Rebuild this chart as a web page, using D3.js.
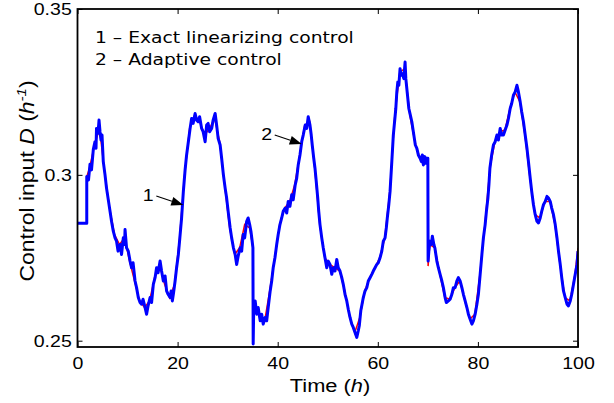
<!DOCTYPE html>
<html>
<head>
<meta charset="utf-8">
<script src="https://cdn.jsdelivr.net/npm/d3@7"></script>
<style>
  body { margin: 0; background: #fff; }
  svg { display: block; }
</style>
</head>
<body>
<script>
// ticks
const xTicks = [0, 20, 40, 60, 80, 100];
const yTicks = [0.25, 0.3, 0.35];
const yTickLabels = ["0.25", "0.3", "0.35"];

const legendLines = ["1 \u2013 Exact linearizing control", "2 \u2013 Adaptive control"];

// curve 1 - exact linearizing control (red, mostly hidden under curve 2)
const exactTime = [0,1.85,1.85,2.4,3.4,4.4,5.4,6.4,7.4,8.4,9.4,10.4,11.4,12.4,13.4,14.4,15.4,16.4,17.4,18.4,
  19.4,20.4,21.4,22.4,23.4,24.4,25.4,26.4,27.4,28.4,29.4,30.4,31.4,32.4,33.4,34.4,35.05,35.1,35.4,36.4,
  37.4,38.4,39.4,40.4,41.4,42.4,43.4,44.4,45.4,46.4,47.4,48.4,49.4,50.4,51.4,52.4,53.4,54.4,55.4,56.4,
  57.4,58.4,59.4,60.4,61.4,62.4,63.4,64.4,65.4,66.4,67.4,68.4,69.4,70.0,70.05,70.4,71.4,72.4,73.4,74.4,
  75.4,76.4,77.4,78.4,79.4,80.4,81.4,82.4,83.4,84.4,85.4,86.4,87.4,88.4,89.4,90.4,91.4,92.4,93.4,94.4,
  95.4,96.4,97.4,98.4,99.4,100];
const exactD = [0.2854,0.2854,0.2995,0.302,0.309,0.314,0.301,0.290,0.282,0.279,0.281,0.274,0.268,0.262,0.260,0.262,0.269,0.273,0.267,0.263,
  0.267,0.281,0.300,0.314,0.318,0.316,0.312,0.314,0.317,0.310,0.297,0.284,0.276,0.278,0.285,0.284,0.278,0.257,0.260,0.257,
  0.256,0.265,0.275,0.285,0.290,0.292,0.297,0.306,0.315,0.316,0.302,0.285,0.275,0.273,0.272,0.271,0.265,0.257,0.2525,0.257,
  0.265,0.269,0.272,0.275,0.281,0.295,0.318,0.331,0.332,0.318,0.310,0.305,0.305,0.304,0.2725,0.279,0.278,0.270,0.263,0.2625,
  0.266,0.268,0.262,0.2565,0.258,0.270,0.285,0.302,0.310,0.313,0.3135,0.320,0.325,0.322,0.312,0.299,0.288,0.287,0.292,0.292,
  0.285,0.273,0.263,0.262,0.270,0.278];

// curve 2 - adaptive control (blue)
const adaptiveTime = [
  0,1.85,1.85,2.2,2.5,2.8,3.16,3.5,3.7,3.8,
  4.1,4.3,4.5,4.7,4.9,5.15,5.5,5.8,6.2,6.5,
  6.8,7.15,7.5,7.8,8.1,8.5,8.8,9.15,9.4,9.5,
  9.8,10.15,10.5,10.8,11.1,11.5,11.8,12.15,12.5,12.8,
  13.1,13.5,13.8,14.1,14.5,14.8,15.15,15.5,15.8,16.1,
  16.5,16.8,17.15,17.5,17.8,18.1,18.5,18.7,18.95,19.2,
  19.5,19.8,20.15,20.45,20.8,21.15,21.5,21.8,22.15,22.5,
  22.8,23.1,23.5,23.8,24.1,24.4,24.8,25.1,25.5,25.8,
  26.1,26.4,26.8,27.1,27.5,27.8,28.1,28.5,28.8,29.15,
  29.5,29.8,30.1,30.5,30.8,31.15,31.5,31.8,32.1,32.5,
  32.8,33.1,33.4,33.8,34.1,34.4,34.65,34.9,35.05,35.1,
  35.2,35.5,35.8,36.1,36.5,36.8,37.1,37.5,37.8,38.1,
  38.5,38.8,39.1,39.45,39.8,40.1,40.45,40.8,41.1,41.5,
  41.8,42.1,42.45,42.8,43.1,43.5,43.8,44.1,44.45,44.8,
  45.1,45.5,45.8,46.1,46.45,46.7,46.9,47.2,47.45,47.7,
  48.0,48.2,48.45,48.8,49.1,49.45,49.8,50.1,50.45,50.8,
  51.1,51.45,51.8,52.1,52.45,52.8,53.1,53.45,53.8,54.1,
  54.45,54.8,55.1,55.45,55.8,56.1,56.3,56.6,56.85,57.1,
  57.45,57.8,58.1,58.45,58.8,59.1,59.45,59.8,60.1,60.45,
  60.8,61.1,61.45,61.7,61.9,62.2,62.45,62.8,63.1,63.35,
  63.6,63.8,64.0,64.2,64.45,64.7,64.9,65.2,65.45,65.6,
  65.8,66.0,66.2,66.5,66.8,67.0,67.3,67.5,67.8,68.1,
  68.45,68.7,68.9,69.1,69.4,69.6,69.8,70.0,70.05,70.2,
  70.4,70.7,70.9,71.2,71.4,71.8,72.1,72.45,72.8,73.1,
  73.45,73.7,74.1,74.45,74.8,75.1,75.45,75.8,76.1,76.45,
  76.8,77.1,77.45,77.8,78.1,78.45,78.8,79.1,79.45,79.8,
  80.1,80.45,80.8,81.1,81.45,81.7,82.0,82.2,82.4,82.75,
  83.1,83.45,83.8,84.1,84.45,84.75,85.1,85.45,85.8,86.1,
  86.45,86.75,87.1,87.45,87.8,88.1,88.45,88.75,89.1,89.45,
  89.8,90.1,90.45,90.75,91.1,91.45,91.8,92.1,92.45,92.75,
  93.1,93.45,93.8,94.1,94.45,94.75,95.1,95.45,95.8,96.1,
  96.45,96.75,97.1,97.45,97.8,98.1,98.45,98.75,99.1,99.45,
  99.8,100];
const adaptiveD = [
  0.2854,0.2854,0.2995,0.2985,0.3032,0.3015,0.3077,0.3100,0.3080,0.3140,
  0.3125,0.3165,0.3130,0.3105,0.3120,0.3040,0.3000,0.2960,0.2920,0.2890,
  0.2860,0.2830,0.2810,0.2800,0.2770,0.2790,0.2760,0.2810,0.2790,0.2835,
  0.2780,0.2770,0.2740,0.2720,0.2735,0.2680,0.2660,0.2630,0.2615,0.2610,
  0.2625,0.2600,0.2580,0.2605,0.2630,0.2615,0.2670,0.2690,0.2720,0.2705,
  0.2740,0.2710,0.2680,0.2695,0.2650,0.2640,0.2630,0.2650,0.2620,0.2645,
  0.2680,0.2720,0.2760,0.2810,0.2870,0.2950,0.3015,0.3060,0.3100,0.3140,
  0.3170,0.3155,0.3185,0.3165,0.3160,0.3175,0.3140,0.3130,0.3100,0.3150,
  0.3155,0.3130,0.3140,0.3165,0.3185,0.3150,0.3110,0.3090,0.3050,0.3000,
  0.2960,0.2930,0.2890,0.2840,0.2810,0.2780,0.2760,0.2730,0.2755,0.2780,
  0.2770,0.2820,0.2810,0.2860,0.2870,0.2850,0.2830,0.2800,0.2780,0.2490,
  0.2590,0.2620,0.2580,0.2600,0.2560,0.2580,0.2550,0.2570,0.2560,0.2600,
  0.2650,0.2680,0.2720,0.2750,0.2790,0.2820,0.2850,0.2870,0.2890,0.2900,
  0.2885,0.2920,0.2905,0.2940,0.2925,0.2970,0.2990,0.3030,0.3060,0.3100,
  0.3120,0.3150,0.3140,0.3175,0.3150,0.3120,0.3090,0.3050,0.3020,0.2980,
  0.2930,0.2890,0.2850,0.2810,0.2780,0.2750,0.2720,0.2740,0.2730,0.2700,
  0.2720,0.2710,0.2745,0.2720,0.2710,0.2690,0.2670,0.2640,0.2620,0.2595,
  0.2570,0.2550,0.2540,0.2525,0.2510,0.2530,0.2545,0.2590,0.2610,0.2630,
  0.2650,0.2660,0.2680,0.2690,0.2700,0.2710,0.2720,0.2730,0.2735,0.2750,
  0.2770,0.2800,0.2810,0.2840,0.2870,0.2910,0.2950,0.3040,0.3120,0.3160,
  0.3200,0.3250,0.3280,0.3270,0.3320,0.3300,0.3305,0.3290,0.3340,0.3290,
  0.3260,0.3230,0.3200,0.3180,0.3160,0.3140,0.3110,0.3090,0.3080,0.3060,
  0.3050,0.3040,0.3060,0.3030,0.3055,0.3035,0.3050,0.3050,0.2740,0.2770,
  0.2800,0.2790,0.2815,0.2790,0.2780,0.2740,0.2720,0.2700,0.2680,0.2660,
  0.2630,0.2615,0.2620,0.2625,0.2640,0.2660,0.2660,0.2680,0.2690,0.2680,
  0.2660,0.2640,0.2620,0.2600,0.2580,0.2565,0.2550,0.2560,0.2580,0.2610,
  0.2640,0.2700,0.2760,0.2810,0.2850,0.2890,0.2930,0.2970,0.3020,0.3060,
  0.3090,0.3100,0.3120,0.3105,0.3140,0.3120,0.3120,0.3135,0.3150,0.3170,
  0.3200,0.3215,0.3240,0.3250,0.3270,0.3250,0.3220,0.3190,0.3160,0.3120,
  0.3080,0.3040,0.2990,0.2950,0.2910,0.2880,0.2860,0.2855,0.2870,0.2890,
  0.2910,0.2920,0.2935,0.2930,0.2920,0.2900,0.2880,0.2850,0.2810,0.2770,
  0.2730,0.2690,0.2650,0.2630,0.2610,0.2605,0.2620,0.2640,0.2670,0.2700,
  0.2730,0.2770];

// where the two arrows point (time, D)
const arrowTips = [[21.14, 0.2909], [44.8, 0.3093]];
const arrowLabels = ["1", "2"];

const width = 614, height = 403;
const sx = 1.15; // the original picture is a bit stretched horizontally

const x = d3.scaleLinear().domain([0, 100]).range([77.5, 578]);
const y = d3.scaleLinear().domain([0.2481, 0.35]).range([347, 9]);

const svg = d3.select("body").append("svg")
    .attr("width", width)
    .attr("height", height)
    .attr("viewBox", `0 0 ${width} ${height}`);

svg.append("defs").append("clipPath").attr("id", "clip")
  .append("rect")
    .attr("x", x.range()[0]).attr("y", y.range()[1])
    .attr("width", x.range()[1] - x.range()[0])
    .attr("height", y.range()[0] - y.range()[1]);

const line = d3.line()
    .x(d => x(d[0]))
    .y(d => y(d[1]));

const exactData = exactTime.map((t, i) => [t, exactD[i]]);
const adaptiveData = adaptiveTime.map((t, i) => [t, adaptiveD[i]]);

const plot = svg.append("g").attr("clip-path", "url(#clip)");

plot.append("path")
    .datum(exactData)
    .attr("fill", "none")
    .attr("stroke", "#ff0000")
    .attr("stroke-width", 1.5)
    .attr("d", line);

plot.append("path")
    .datum(adaptiveData)
    .attr("fill", "none")
    .attr("stroke", "#0000ff")
    .attr("stroke-width", 3)
    .attr("stroke-linejoin", "round")
    .attr("d", line);

// axes, ticks pointing inward on all four sides
const font = "'Liberation Sans', Arial, sans-serif";

function styleAxis(g) {
  g.select(".domain").remove();
  g.selectAll(".tick line").attr("stroke", "#000").attr("stroke-width", 1);
  g.selectAll(".tick text")
    .attr("fill", "#000")
    .attr("font-family", font)
    .attr("font-size", 17);
}

svg.append("g")
    .attr("transform", `translate(0,${y.range()[0]})`)
    .call(d3.axisBottom(x).tickValues(xTicks).tickSize(-5).tickPadding(10).tickFormat(d3.format("d")))
    .call(styleAxis)
    .call(g => g.selectAll(".tick text").attr("transform", `scale(${sx},1)`));

svg.append("g")
    .attr("transform", `translate(${x.range()[0]},0)`)
    .call(d3.axisLeft(y).tickValues(yTicks).tickSize(-5).tickPadding(5).tickFormat((d, i) => yTickLabels[i]))
    .call(styleAxis)
    .call(g => g.selectAll(".tick text").attr("transform", `scale(${sx},1)`));

svg.append("g")
    .attr("transform", `translate(0,${y.range()[1]})`)
    .call(d3.axisTop(x).tickValues(xTicks).tickSize(-5).tickFormat(""))
    .call(styleAxis);

svg.append("g")
    .attr("transform", `translate(${x.range()[1]},0)`)
    .call(d3.axisRight(y).tickValues(yTicks).tickSize(-5).tickFormat(""))
    .call(styleAxis);

// frame
svg.append("rect")
    .attr("x", x.range()[0])
    .attr("y", y.range()[1])
    .attr("width", x.range()[1] - x.range()[0])
    .attr("height", y.range()[0] - y.range()[1])
    .attr("fill", "none")
    .attr("stroke", "#000")
    .attr("stroke-width", 1.8);

// axis titles
const xTitle = svg.append("text")
    .attr("transform", `translate(330,392) scale(${sx},1)`)
    .attr("text-anchor", "middle")
    .attr("font-family", font)
    .attr("font-size", 19);
xTitle.append("tspan").text("Time (");
xTitle.append("tspan").attr("font-style", "italic").text("h");
xTitle.append("tspan").text(")");

const yTitle = svg.append("text")
    .attr("transform", `translate(34,181) rotate(-90) scale(${sx},1)`)
    .attr("text-anchor", "middle")
    .attr("font-family", font)
    .attr("font-size", 20);
yTitle.append("tspan").text("Control input ");
yTitle.append("tspan").attr("font-style", "italic").text("D");
yTitle.append("tspan").text(" (");
yTitle.append("tspan").attr("font-style", "italic").text("h");
yTitle.append("tspan").attr("font-style", "italic").attr("font-size", 13).attr("dy", -8).text("-1");
yTitle.append("tspan").attr("dy", 8).text(")");

// legend text
svg.selectAll(".legend")
  .data(legendLines)
  .join("text")
    .attr("class", "legend")
    .attr("transform", (d, i) => `translate(95,${43 + i * 22}) scale(1.17,1)`)
    .attr("font-family", "'DejaVu Sans', Verdana, sans-serif")
    .attr("font-size", 16)
    .attr("fill", "#000")
    .text(d => d);

// arrows with numbers
arrowTips.forEach((p, i) => {
  const tx = x(p[0]), ty = y(p[1]);
  const ax = tx - 27, ay = ty - 9;
  const ang = Math.atan2(ty - ay, tx - ax);
  const L = 12, W = 4.5;
  const bx = tx - L * Math.cos(ang), by = ty - L * Math.sin(ang);
  svg.append("line")
      .attr("x1", ax).attr("y1", ay)
      .attr("x2", bx).attr("y2", by)
      .attr("stroke", "#000").attr("stroke-width", 1.2);
  svg.append("path")
      .attr("d", `M${tx},${ty}L${bx - W * Math.sin(ang)},${by + W * Math.cos(ang)}L${bx + W * Math.sin(ang)},${by - W * Math.cos(ang)}Z`)
      .attr("fill", "#000");
  svg.append("text")
      .attr("transform", `translate(${tx - 35},${ty - 4}) scale(${sx},1)`)
      .attr("text-anchor", "middle")
      .attr("font-family", font)
      .attr("font-size", 17)
      .text(arrowLabels[i]);
});
</script>
</body>
</html>
